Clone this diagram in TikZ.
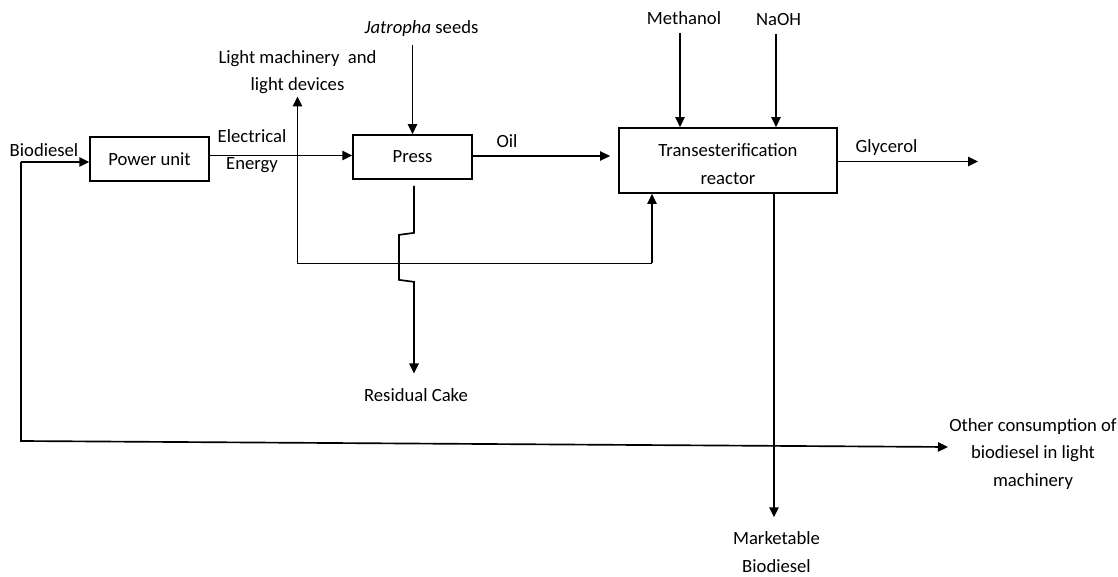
\documentclass[tikz,border=0pt]{standalone}
\usepackage{fontspec}
\setmainfont{Carlito}
\usetikzlibrary{arrows.meta,calc}
\begin{document}
\begin{tikzpicture}[x=0.75pt,y=-0.75pt,
  every node/.style={font=\fontsize{14}{20.6}\selectfont},
  lbl/.style={inner sep=1.5pt, align=center, anchor=base},
  box/.style={draw, line width=1.3pt, inner sep=0pt, align=center},
  conn/.style={line width=1.25pt},
  arr/.style={conn, -{Triangle[length=7.5pt,width=7pt]}}]
\useasboundingbox (0,0) rectangle (1118,577);
% process boxes
\node[box, minimum width=89pt, minimum height=33pt] (power) at (149.5,159) {Power unit};
\node[box, minimum width=89pt, minimum height=33pt] (press) at (412.5,157) {Press};
\node[box, minimum width=163.5pt, minimum height=48.75pt] (reactor) at (728,160.5) {\raisebox{-3.5pt}[\height][\depth]{\begin{tabular}{@{}c@{}}Transesterification\\[0.5pt]reactor\end{tabular}}};
% labels
\node[lbl] (bio) at (44,157) {Biodiesel};
\node[lbl] (elec) at (252,170) {Electrical\\Energy};
\node[lbl] (light) at (297.5,91) {Light machinery~ and\\light devices};
\node[lbl] (jat) at (421.5,34) {\textit{Jatropha} seeds};
\node[lbl] (oil) at (507,148) {Oil};
\node[lbl] (meth) at (684,25) {Methanol};
\node[lbl] (naoh) at (778.5,26) {NaOH};
\node[lbl] (glyc) at (886.5,153) {Glycerol};
\node[lbl] (res) at (416,402) {Residual Cake};
\node[lbl] (other) at (1033,486) {Other consumption of\\biodiesel in light\\machinery};
\node[lbl] (mkt) at (776.5,572) {Marketable\\Biodiesel};
% coordinates
\coordinate (bsrc) at (21,162);
\coordinate (bcorner) at (21,441);
\coordinate (otip) at (948,447);
\coordinate (lj) at (297.5,155.5);
\coordinate (rj) at (652,263.5);
\coordinate (gtip) at (978,161.5);
\coordinate (mx) at (680,0);
\coordinate (nx) at (776,0);
\coordinate (kx) at (774,0);
% connectors
\draw[arr] (bsrc) -- (bsrc -| power.west);
\draw[arr] (bsrc) -- (bcorner) -- (otip);
\draw[arr] ($(power.east)+(0,-3.5)$) -- ($(press.west)+(0,-1.5)$);
\draw[arr] (lj) -- (lj |- light.south);
\draw[conn] (lj) |- (rj);
\draw[arr] (rj) -- (rj |- reactor.south);
\draw[arr, shorten <=4pt] (press.north |- jat.south) -- (press.north);
\draw[arr, shorten >=6pt] ($(press.east)+(0,-1)$) -- ($(press.east -| reactor.west)+(0,-1)$);
\draw[arr, shorten <=4pt] (mx |- meth.south) -- (mx |- reactor.north);
\draw[arr, shorten <=4pt] (nx |- naoh.south) -- (nx |- reactor.north);
\draw[arr] ($(reactor.east)+(0,1)$) -- (gtip);
\draw[arr, shorten >=9pt] (kx |- reactor.south) -- (kx |- mkt.north);
\draw[arr, shorten >=10pt] ($(press.south)+(1.5,6)$) -- ++(0,47) -- ++(-15,2) -- ++(0,45) -- ++(15,2) coordinate (k) -- (k |- res.north);
\end{tikzpicture}
\end{document}
